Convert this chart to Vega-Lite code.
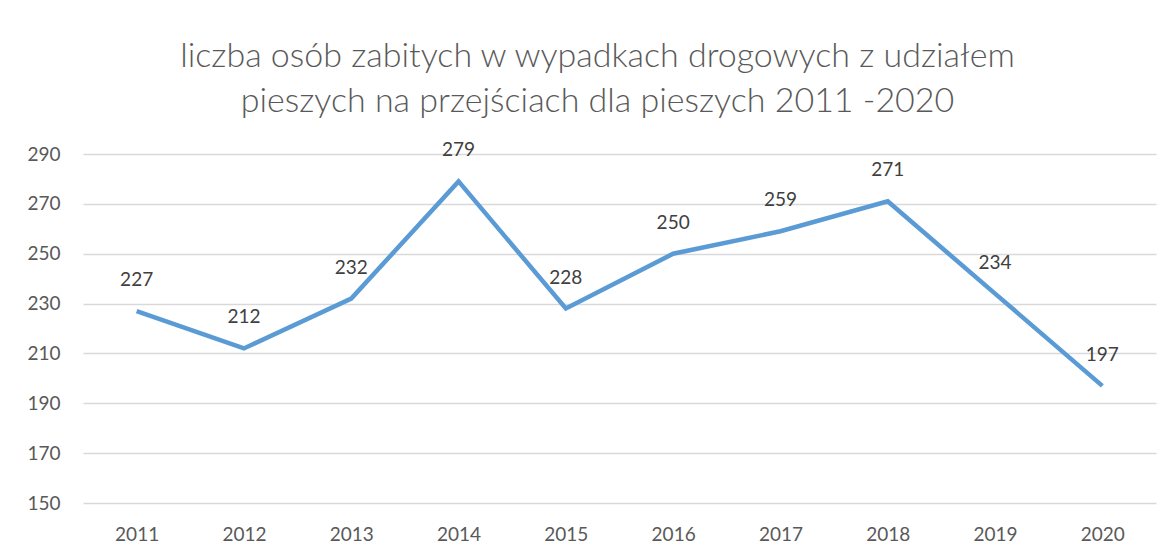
{
  "$schema": "https://vega.github.io/schema/vega-lite/v6.json",
  "autosize": "none",
  "width": 1073,
  "height": 349,
  "padding": {"left": 83, "top": 154, "right": 17, "bottom": 54},
  "background": "white",
  "title": {
    "text": ["liczba osób zabitych w wypadkach drogowych z udziałem", "pieszych na przejściach dla pieszych 2011 -2020"],
    "font": "Lato",
    "fontSize": 34,
    "fontWeight": 300,
    "color": "#595959",
    "anchor": "middle",
    "lineHeight": 45,
    "offset": 22,
    "dx": -22
  },
  "data": {
    "values": [
      {"year": "2011", "value": 227},
      {"year": "2012", "value": 212},
      {"year": "2013", "value": 232},
      {"year": "2014", "value": 279},
      {"year": "2015", "value": 228},
      {"year": "2016", "value": 250},
      {"year": "2017", "value": 259},
      {"year": "2018", "value": 271},
      {"year": "2019", "value": 234},
      {"year": "2020", "value": 197}
    ]
  },
  "encoding": {
    "x": {
      "field": "year", "type": "ordinal",
      "scale": {"paddingInner": 0, "paddingOuter": 0.5},
      "axis": {
        "title": null, "labelAngle": 0, "ticks": false, "domain": false,
        "labelFont": "Lato", "labelFontSize": 19, "labelColor": "#595959",
        "labelPadding": 22
      }
    },
    "y": {
      "field": "value", "type": "quantitative",
      "scale": {"domain": [150, 290], "nice": false, "zero": false},
      "axis": {
        "title": null, "values": [150, 170, 190, 210, 230, 250, 270, 290],
        "ticks": false, "domain": false,
        "grid": true, "gridColor": "#d9d9d9", "gridWidth": 1.5,
        "labelFont": "Lato", "labelFontSize": 19, "labelColor": "#595959",
        "labelPadding": 23
      }
    }
  },
  "layer": [
    {"mark": {"type": "line", "color": "#5B9BD5", "strokeWidth": 4.5, "strokeJoin": "miter"}},
    {
      "mark": {"type": "text", "font": "Lato", "fontSize": 19, "color": "#404040", "dy": -31, "baseline": "middle"},
      "encoding": {"text": {"field": "value", "type": "quantitative"}}
    }
  ],
  "config": {"view": {"stroke": null}}
}
